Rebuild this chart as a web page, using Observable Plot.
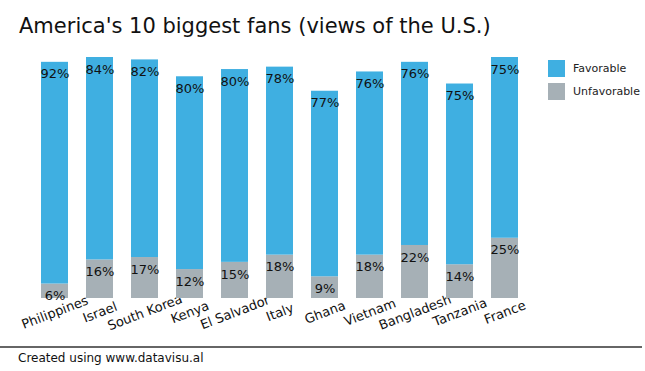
<!DOCTYPE html>
<html>
<head>
<meta charset="utf-8">
<script src="https://cdn.jsdelivr.net/npm/d3@7"></script>
<script src="https://cdn.jsdelivr.net/npm/@observablehq/plot@0.6"></script>
<style>
  html, body { margin: 0; padding: 0; background: #fff; }
  body { width: 645px; height: 371px; position: relative; overflow: hidden; font-family: "DejaVu Sans", sans-serif; }
  #title { position: absolute; left: 19px; top: 14px; font-size: 21px; color: #111; white-space: nowrap; }
  #chart { position: absolute; left: 0; top: 50px; }
  #legend { position: absolute; left: 548px; top: 57px; font-size: 11px; color: #222; }
  .li { display: flex; align-items: center; height: 23px; }
  .sw { width: 17px; height: 17px; margin-right: 8px; }
  #rule { position: absolute; left: 0; top: 346px; width: 642px; height: 2px; background: #666; }
  #caption { position: absolute; left: 18px; top: 351px; font-size: 12px; color: #111; }
</style>
</head>
<body>
<div id="title">America's 10 biggest fans (views of the U.S.)</div>
<div id="chart"></div>
<div id="legend"></div>
<div id="rule"></div>
<div id="caption">Created using www.datavisu.al</div>
<script>
const countries = ["Philippines", "Israel", "South Korea", "Kenya", "El Salvador", "Italy", "Ghana", "Vietnam", "Bangladesh", "Tanzania", "France"];
const favorable = [92, 84, 82, 80, 80, 78, 77, 76, 76, 75, 75];
const unfavorable = [6, 16, 17, 12, 15, 18, 9, 18, 22, 14, 25];
const seriesNames = ["Unfavorable", "Favorable"];
const seriesColors = ["#a6b0b6", "#3fafe1"];

const rows = [];
countries.forEach((c, i) => {
  rows.push({country: c, series: "Unfavorable", value: unfavorable[i]});
  rows.push({country: c, series: "Favorable", value: favorable[i]});
});

const chart = Plot.plot({
  width: 645,
  height: 290,
  marginTop: 7,
  marginBottom: 42,
  marginLeft: 32,
  marginRight: 118,
  style: {fontFamily: "DejaVu Sans", fontSize: "13px", background: "transparent"},
  x: {domain: countries, padding: 0.4, paddingOuter: 0.2, round: false, axis: null},
  y: {domain: [0, 100], axis: null},
  color: {domain: seriesNames, range: seriesColors},
  marks: [
    Plot.text(countries, {x: d => d, frameAnchor: "bottom", text: d => d, rotate: -21, textAnchor: "middle", lineAnchor: "middle", dy: 14, fill: "#111", fontSize: 13}),
    Plot.barY(rows, {x: "country", y: "value", fill: "series", z: "series"}),
    Plot.text(rows, Plot.stackY2({x: "country", y: "value", z: "series", text: d => d.value + "%", dy: 12, lineAnchor: "middle", fill: "#111", fontSize: 13}))
  ]
});
document.getElementById("chart").appendChild(chart);

const legend = document.getElementById("legend");
["Favorable", "Unfavorable"].forEach(name => {
  const row = document.createElement("div");
  row.className = "li";
  const sw = document.createElement("div");
  sw.className = "sw";
  sw.style.background = seriesColors[seriesNames.indexOf(name)];
  const t = document.createElement("span");
  t.textContent = name;
  row.appendChild(sw);
  row.appendChild(t);
  legend.appendChild(row);
});
</script>
</body>
</html>
